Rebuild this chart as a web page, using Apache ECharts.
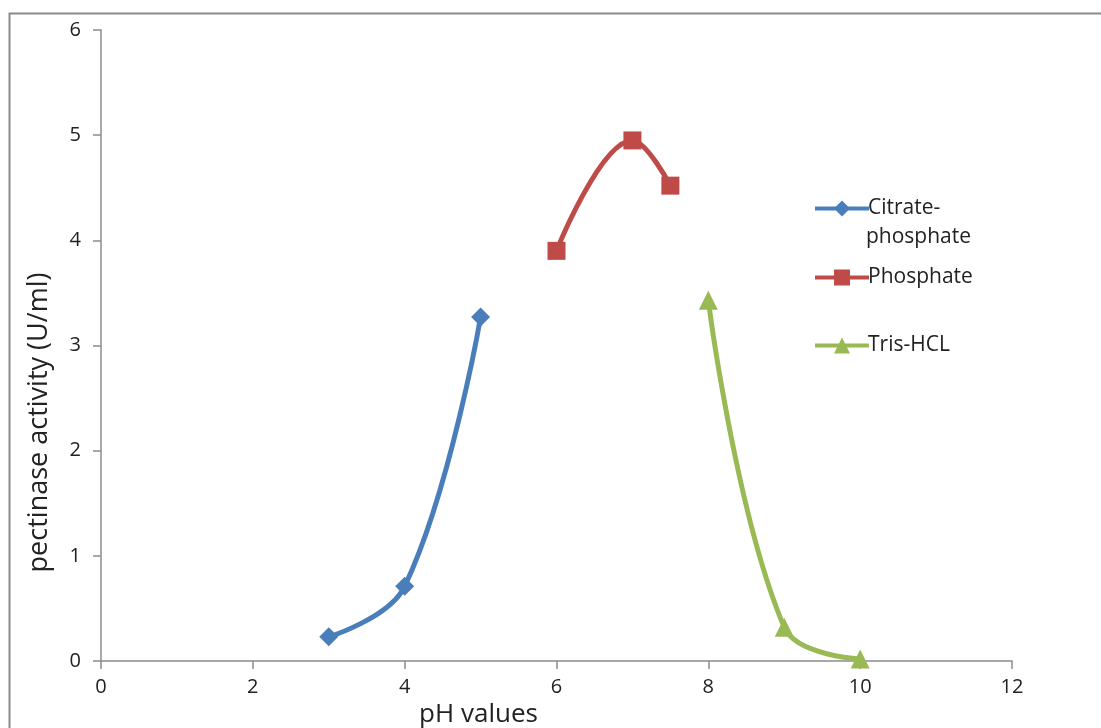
<!DOCTYPE html>
<html>
<head>
<meta charset="utf-8">
<script src="https://cdn.jsdelivr.net/npm/echarts@6/dist/echarts.min.js"></script>
<style>
  html, body { margin: 0; padding: 0; background: #fff; }
  #chart { width: 1101px; height: 728px; }
</style>
</head>
<body>
<div id="chart"></div>
<script>
// pH optimum of pectinase in three buffer systems
const citratePH = [3, 4, 5];
const citrateActivity = [0.23, 0.71, 3.27];
const phosphatePH = [6, 7, 7.5];
const phosphateActivity = [3.90, 4.95, 4.52];
const trisPH = [8, 9, 10];
const trisActivity = [3.43, 0.32, 0.02];
const xTicks = [0, 2, 4, 6, 8, 10, 12];
const yTicks = [0, 1, 2, 3, 4, 5, 6];

const FONT = '"Open Sans", "Liberation Sans", sans-serif';
const AXIS_GREY = '#8c8c8c';

const pairs = (xs, ys) => xs.map((x, i) => [x, ys[i]]);

function lineSeries(name, xs, ys, color, symbol, size) {
  return {
    name: name,
    type: 'line',
    data: pairs(xs, ys),
    smooth: 0.4,
    symbol: symbol,
    symbolSize: size,
    lineStyle: { color: color, width: 5 },
    itemStyle: { color: color },
    z: 3
  };
}

function legendBox(name, top, label) {
  return {
    data: [name],
    left: 808,
    top: top,
    orient: 'vertical',
    itemWidth: 54,
    itemHeight: 20,
    itemGap: 0,
    lineStyle: { width: 4 },
    formatter: () => label,
    textStyle: { fontFamily: FONT, fontSize: 21, color: '#222', padding: [0, 0, 0, -6] }
  };
}

const chart = echarts.init(document.getElementById('chart'), null, { renderer: 'canvas' });
chart.setOption({
  animation: false,
  backgroundColor: '#ffffff',
  grid: { left: 101, right: 89, top: 30, bottom: 67, containLabel: false, outerBoundsMode: 'none' },
  xAxis: {
    type: 'value',
    min: xTicks[0],
    max: xTicks[xTicks.length - 1],
    interval: xTicks[1] - xTicks[0],
    name: 'pH values',
    nameLocation: 'middle',
    nameGap: 38,
    nameTextStyle: { fontFamily: FONT, fontSize: 26, color: '#222', padding: [0, 156, 0, 0] },
    axisLine: { lineStyle: { color: AXIS_GREY, width: 1.5 } },
    axisTick: { show: true, length: 8, lineStyle: { color: AXIS_GREY, width: 1.5 } },
    axisLabel: { fontFamily: FONT, fontSize: 20, color: '#222', margin: 16 },
    splitLine: { show: false }
  },
  yAxis: {
    type: 'value',
    min: yTicks[0],
    max: yTicks[yTicks.length - 1],
    interval: yTicks[1] - yTicks[0],
    name: 'pectinase activity (U/ml)',
    nameLocation: 'middle',
    nameRotate: 90,
    nameGap: 48,
    nameTextStyle: { fontFamily: FONT, fontSize: 27, color: '#222', padding: [0, 154, 0, 0] },
    axisLine: { show: true, lineStyle: { color: AXIS_GREY, width: 1.5 } },
    axisTick: { show: true, length: 8, lineStyle: { color: AXIS_GREY, width: 1.5 } },
    axisLabel: { fontFamily: FONT, fontSize: 20, color: '#222', margin: 20 },
    splitLine: { show: false }
  },
  legend: [
    legendBox('Citrate-phosphate', 193, 'Citrate-'),
    legendBox('Phosphate', 262, 'Phosphate'),
    legendBox('Tris-HCL', 330, 'Tris-HCL')
  ],
  graphic: [
    {
      type: 'rect',
      shape: { x: 9.5, y: 13.5, width: 1120, height: 740 },
      style: { fill: 'none', stroke: '#8a8a8a', lineWidth: 2 },
      silent: true
    },
    {
      type: 'text',
      left: 866,
      top: 227,
      style: { text: 'phosphate', fontFamily: FONT, fontSize: 21, fill: '#222' }
    }
  ],
  series: [
    lineSeries('Citrate-phosphate', citratePH, citrateActivity, '#4a7ebb', 'diamond', 19),
    lineSeries('Phosphate', phosphatePH, phosphateActivity, '#be4b48', 'rect', 18),
    lineSeries('Tris-HCL', trisPH, trisActivity, '#98b954', 'triangle', 19)
  ]
});
</script>
</body>
</html>
